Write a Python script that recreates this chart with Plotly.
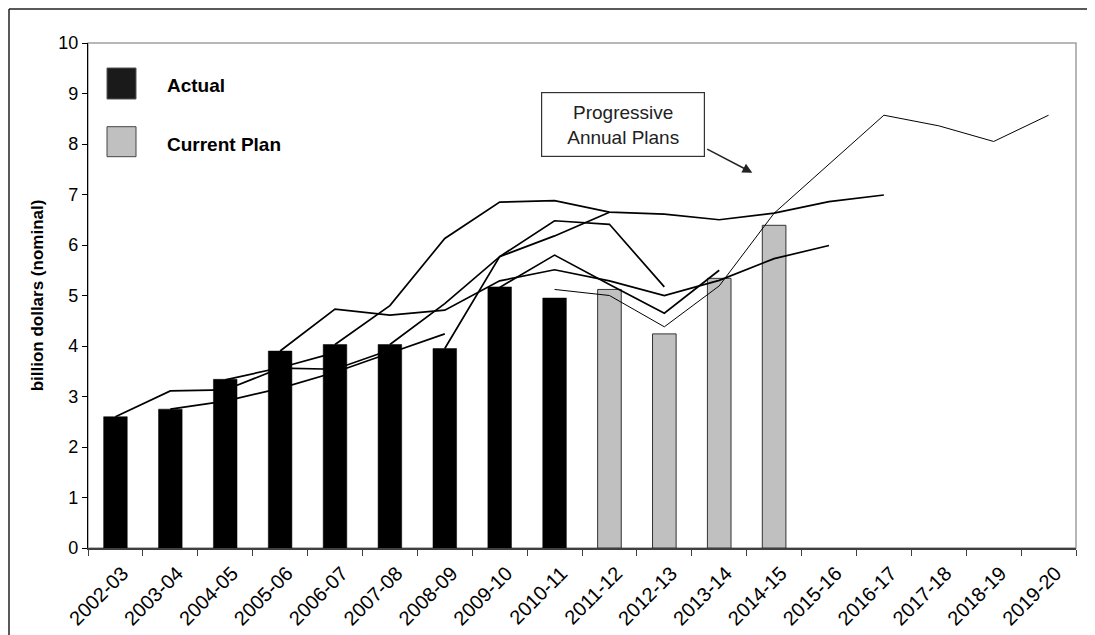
import plotly.graph_objects as go

years = ["2002-03", "2003-04", "2004-05", "2005-06", "2006-07", "2007-08", "2008-09",
         "2009-10", "2010-11", "2011-12", "2012-13", "2013-14", "2014-15", "2015-16",
         "2016-17", "2017-18", "2018-19", "2019-20"]

N = None
actual = [2.60, 2.75, 3.34, 3.90, 4.03, 4.03, 3.95, 5.17, 4.95, N, N, N, N, N, N, N, N, N]
current_plan = [N, N, N, N, N, N, N, N, N, 5.12, 4.24, 5.34, 6.39, N, N, N, N, N]

plan_2002 = [2.60, 3.11, 3.13, 3.56, 3.54, 3.92, N, N, N, N, N, N, N, N, N, N, N, N]
plan_2003 = [N, 2.75, 2.91, 3.16, 3.48, 3.86, 4.24, N, N, N, N, N, N, N, N, N, N, N]
plan_2004 = [N, N, 3.33, 3.57, 3.87, N, N, N, N, N, N, N, N, N, N, N, N, N]
plan_2005 = [N, N, N, 3.90, 4.73, 4.61, 4.71, 5.29, 5.51, 5.29, 5.00, 5.30, 5.73, 5.99, N, N, N, N]
plan_2006 = [N, N, N, N, 4.03, 4.80, 6.13, 6.85, 6.88, 6.65, 6.61, 6.50, 6.63, 6.86, 6.99, N, N, N]
plan_2007 = [N, N, N, N, N, 4.03, 4.84, 5.77, 6.18, 6.65, N, N, N, N, N, N, N, N]
plan_2008 = [N, N, N, N, N, N, 3.95, 5.77, 6.48, 6.41, 5.17, N, N, N, N, N, N, N]
plan_2009 = [N, N, N, N, N, N, N, 5.16, 5.80, 5.22, 4.65, 5.50, N, N, N, N, N, N]
plan_2010 = [N, N, N, N, N, N, N, N, 5.12, 5.00, 4.38, 5.19, 6.63, 7.60, 8.57, 8.36, 8.05, 8.57]

plan_lines = [plan_2002, plan_2003, plan_2004, plan_2005, plan_2006,
              plan_2007, plan_2008, plan_2009, plan_2010]
plan_widths = [1.7, 1.7, 1.7, 1.7, 1.7, 1.7, 1.7, 1.7, 1.0]

FONT = "Liberation Sans, Arial, sans-serif"

fig = go.Figure()
fig.add_trace(go.Bar(x=years, y=actual, name="Actual",
                     marker=dict(color="black", line=dict(color="black", width=0.5)), showlegend=False))
fig.add_trace(go.Bar(x=years, y=current_plan, name="Current Plan",
                     marker=dict(color="#c0c0c0", line=dict(color="#333333", width=1)), showlegend=False))
for vals, w in zip(plan_lines, plan_widths):
    fig.add_trace(go.Scatter(x=years, y=vals, mode="lines", line=dict(color="black", width=w),
                             connectgaps=False, showlegend=False, hoverinfo="skip"))

# page body has an 8px margin; figure is placed at (8, 8)
OFF = 8
W, H = 1095 - OFF, 635 - OFF
L, R, T, B = 88 - OFF, 19, 43 - OFF, 87
PX0, PX1 = 88, 1076      # plot area in screen pixels
PY0, PY1 = 43, 548

def px(x):
    return (x - PX0) / (PX1 - PX0)

def py(y):
    return (PY1 - y) / (PY1 - PY0)

shapes = [
    dict(type="rect", xref="paper", yref="paper", x0=0, x1=1, y0=0, y1=1,
         line=dict(color="#a0a0a0", width=1.5), layer="below"),
    # outer frame (top and left)
    dict(type="line", xref="paper", yref="paper", x0=px(9), x1=px(1100), y0=py(9), y1=py(9),
         line=dict(color="#222222", width=1.5)),
    dict(type="line", xref="paper", yref="paper", x0=px(9), x1=px(9), y0=py(9), y1=py(640),
         line=dict(color="#222222", width=1.5)),
    # legend swatches
    dict(type="rect", xref="paper", yref="paper", x0=px(107), x1=px(136), y0=py(99), y1=py(68),
         fillcolor="#1a1a1a", line=dict(color="#555555", width=1)),
    dict(type="rect", xref="paper", yref="paper", x0=px(107), x1=px(136), y0=py(156.7), y1=py(126.7),
         fillcolor="#c0c0c0", line=dict(color="#444444", width=1)),
]

annotations = [
    dict(xref="paper", yref="paper", x=px(165), y=py(86), text="<b>Actual</b>", showarrow=False,
         xanchor="left", yanchor="middle", font=dict(family=FONT, size=19, color="black")),
    dict(xref="paper", yref="paper", x=px(165), y=py(145), text="<b>Current Plan</b>", showarrow=False,
         xanchor="left", yanchor="middle", font=dict(family=FONT, size=19, color="black")),
    dict(xref="paper", yref="paper", x=px(623.4), y=py(124.2), text="Progressive<br>Annual Plans",
         showarrow=False, xanchor="center", yanchor="middle",
         font=dict(family=FONT, size=19, color="#222222"),
         bordercolor="#333333", borderwidth=1.2, borderpad=0, bgcolor="white",
         width=162, height=63),
    dict(xref="paper", yref="paper", x=px(752.3), y=py(172.7), text="", showarrow=True,
         ax=-46.6, ay=-24.4, arrowhead=2, arrowsize=1.3, arrowwidth=1.5, arrowcolor="#222222",
         standoff=0, startstandoff=0),
]

fig.update_layout(
    width=W, height=H,
    margin=dict(l=L, r=R, t=T, b=B, autoexpand=False),
    paper_bgcolor="white", plot_bgcolor="white",
    barmode="overlay", bargap=0.57,
    font=dict(family=FONT, size=16, color="black"),
    shapes=shapes, annotations=annotations,
    xaxis=dict(type="category", categoryorder="array", categoryarray=years, automargin=False,
               tickson="boundaries", ticks="outside", ticklen=6, tickcolor="#404040",
               showline=True, linecolor="#404040", linewidth=1.5, showgrid=False,
               tickangle=-45, ticklabelshift=7, ticklabelstandoff=4,
               tickfont=dict(family=FONT, size=20, color="black"), range=[-0.5, 17.5]),
    yaxis=dict(range=[0, 10], dtick=1, ticks="outside", ticklen=5, tickcolor="black", automargin=False,
               showline=True, linecolor="black", linewidth=1.2, showgrid=False, zeroline=False,
               tickfont=dict(family=FONT, size=18, color="black"),
               title=dict(text="<b>billion dollars (nominal)</b>", standoff=10,
                          font=dict(family=FONT, size=17, color="black"))),
)

fig.write_html("out.html")
